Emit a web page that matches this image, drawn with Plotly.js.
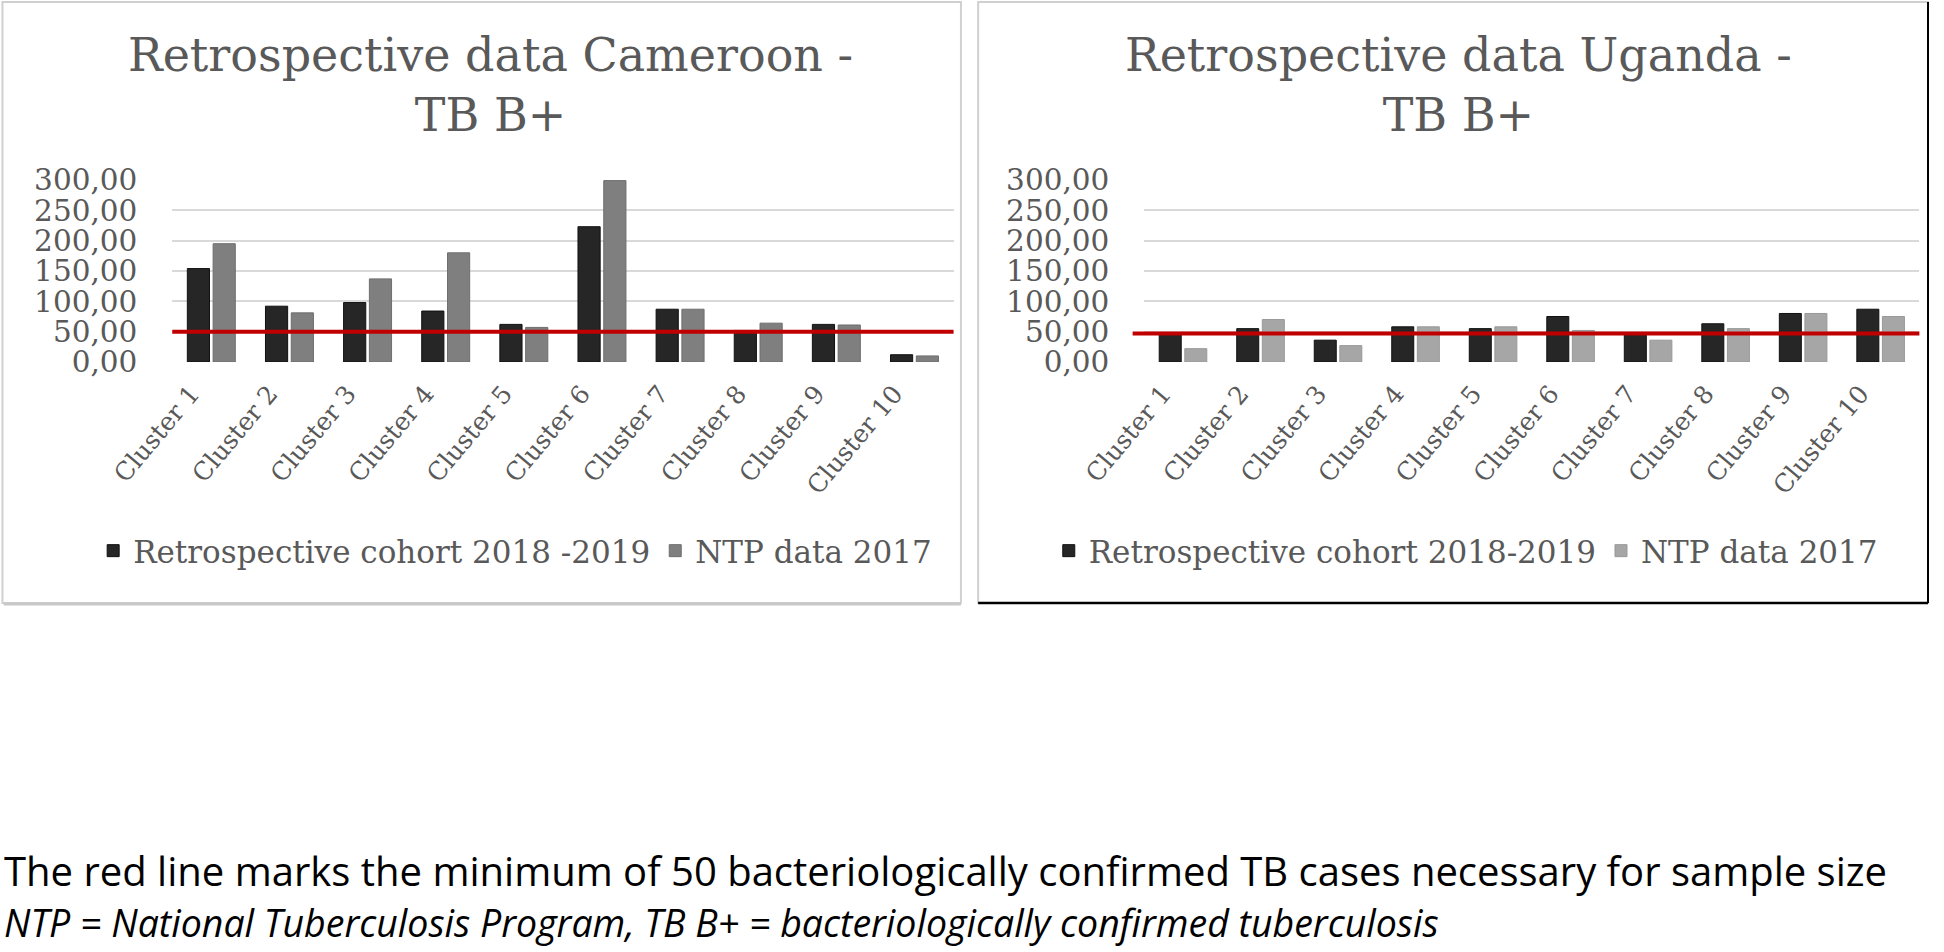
<!DOCTYPE html>
<html>
<head>
<meta charset="utf-8">
<script src="https://cdn.plot.ly/plotly-3.0.1.min.js"></script>
<style>
html,body{margin:0;padding:0;background:#fff;}
#chart{width:1944px;height:952px;}
</style>
</head>
<body>
<div id="chart"></div>
<script>
// ---- data ----
var clusters = ["Cluster 1","Cluster 2","Cluster 3","Cluster 4","Cluster 5","Cluster 6","Cluster 7","Cluster 8","Cluster 9","Cluster 10"];
var cameroonRetro = [154, 92, 98, 84, 62, 223, 87, 52, 62, 12];
var cameroonNTP   = [195, 81, 137, 180, 57, 299, 87, 64, 61, 10];
var ugandaRetro   = [45, 55, 36, 58, 55, 75, 45, 63, 80, 87];
var ugandaNTP     = [22, 70, 27, 58, 58, 52, 36, 55, 80, 75];
var thresholds    = [50, 47];
var yTickVals     = [0, 50, 100, 150, 200, 250, 300];
var yTickText     = ["0,00","50,00","100,00","150,00","200,00","250,00","300,00"];
var legendNames   = ["Retrospective cohort 2018 -2019", "NTP data 2017", "Retrospective cohort 2018-2019", "NTP data 2017"];
var titles        = ["Retrospective data Cameroon -<br>TB B+", "Retrospective data Uganda -<br>TB B+"];
var footnote1     = "The red line marks the minimum of 50 bacteriologically confirmed TB cases necessary for sample size";
var footnote2     = "NTP = National Tuberculosis Program, TB B+ = bacteriologically confirmed tuberculosis";

var serif = "DejaVu Serif, serif";
var sans = "Open Sans, sans-serif";
var txtCol = "#595959";
var W = 1580, H = 952; // measuring frame
function fx(p){return p/W;}
function fy(p){return 1 - p/H;}

var traces = [
  {type:"bar", x:clusters, y:cameroonRetro, name:legendNames[0], xaxis:"x", yaxis:"y", legend:"legend",
   marker:{color:"#262626", line:{color:"#111", width:1}}},
  {type:"bar", x:clusters, y:cameroonNTP, name:legendNames[1], xaxis:"x", yaxis:"y", legend:"legend",
   marker:{color:"#7f7f7f", line:{color:"#6e6e6e", width:1}}},
  {type:"bar", x:clusters, y:ugandaRetro, name:legendNames[2], xaxis:"x2", yaxis:"y2", legend:"legend2",
   marker:{color:"#262626", line:{color:"#111", width:1}}},
  {type:"bar", x:clusters, y:ugandaNTP, name:legendNames[3], xaxis:"x2", yaxis:"y2", legend:"legend2",
   marker:{color:"#a6a6a6", line:{color:"#999", width:1}}}
];

var yDomain = [fy(362), fy(180)];
function yAx(){
  return {domain:yDomain, range:[0,300], tickvals:yTickVals, ticktext:yTickText, automargin:false,
    showgrid:true, gridcolor:"#d9d9d9", gridwidth:2, zeroline:false, showline:false,
    ticks:"outside", ticklen:28, tickcolor:"rgba(0,0,0,0)",
    tickfont:{family:serif, size:29.5, color:txtCol}, fixedrange:true};
}
function xAx(dom){
  return {domain:dom, tickangle:-50, showgrid:false, zeroline:false, showline:false, automargin:false,
    ticks:"outside", ticklen:6, tickcolor:"rgba(0,0,0,0)", ticklabelshift:-20,
    tickfont:{family:serif, size:25, color:txtCol}, fixedrange:true};
}

var layout = {
  width:1944, height:952,
  margin:{l:0,r:0,t:0,b:0},
  paper_bgcolor:"#fff", plot_bgcolor:"rgba(0,0,0,0)",
  barmode:"group", bargap:0.34, bargroupgap:0.14,
  xaxis:xAx([fx(140), fx(775)]), yaxis:yAx(),
  xaxis2:xAx([fx(930), fx(1560)]), yaxis2:Object.assign(yAx(), {anchor:"x2"}),
  legend:{orientation:"h", x:0.265, xanchor:"center", y:fy(551), yanchor:"middle",
    font:{family:serif, size:31, color:txtCol}, bgcolor:"rgba(0,0,0,0)", itemclick:false, itemwidth:30},
  legend2:{orientation:"h", x:0.754, xanchor:"center", y:fy(551), yanchor:"middle",
    font:{family:serif, size:31, color:txtCol}, bgcolor:"rgba(0,0,0,0)", itemclick:false, itemwidth:30},
  shapes:[
    {type:"rect", xref:"paper", yref:"paper", x0:fx(2), x1:fx(781), y0:fy(603), y1:fy(2),
     line:{color:"#d0d0d0", width:2}, layer:"below"},
    {type:"line", xref:"paper", yref:"paper", x0:fx(3), x1:fx(781), y0:fy(604), y1:fy(604),
     line:{color:"#c8c8c8", width:3}},
    {type:"rect", xref:"paper", yref:"paper", x0:fx(795), x1:fx(1567), y0:fy(603), y1:fy(2),
     line:{color:"#d0d0d0", width:2}, layer:"below"},
    {type:"line", xref:"paper", yref:"paper", x0:fx(795), x1:fx(1567), y0:fy(603), y1:fy(603),
     line:{color:"#000", width:2.5}},
    {type:"line", xref:"paper", yref:"paper", x0:fx(1567), x1:fx(1567), y0:fy(603), y1:fy(2),
     line:{color:"#000", width:2}},
    {type:"line", xref:"x domain", yref:"y", x0:0, x1:1, y0:thresholds[0], y1:thresholds[0],
     line:{color:"#c00000", width:4}},
    {type:"line", xref:"x2 domain", yref:"y2", x0:-0.015, x1:1, y0:thresholds[1], y1:thresholds[1],
     line:{color:"#c00000", width:4}}
  ],
  annotations:[
    {text:titles[0], xref:"paper", yref:"paper", x:fx(399), y:fy(85), xanchor:"center", yanchor:"middle",
     showarrow:false, font:{family:serif, size:46, color:txtCol}},
    {text:titles[1], xref:"paper", yref:"paper", x:fx(1185), y:fy(85), xanchor:"center", yanchor:"middle",
     showarrow:false, font:{family:serif, size:46, color:txtCol}},
    {text:footnote1, xref:"paper", yref:"paper", x:fx(2), y:fy(870), xanchor:"left", yanchor:"middle",
     showarrow:false, font:{family:sans, size:40, color:"#000"}},
    {text:"<i>"+footnote2+"</i>", xref:"paper", yref:"paper", x:fx(2), y:fy(922), xanchor:"left", yanchor:"middle",
     showarrow:false, font:{family:sans, size:37.5, color:"#000"}}
  ]
};

Plotly.newPlot("chart", traces, layout, {displayModeBar:false, staticPlot:true});
</script>
</body>
</html>
